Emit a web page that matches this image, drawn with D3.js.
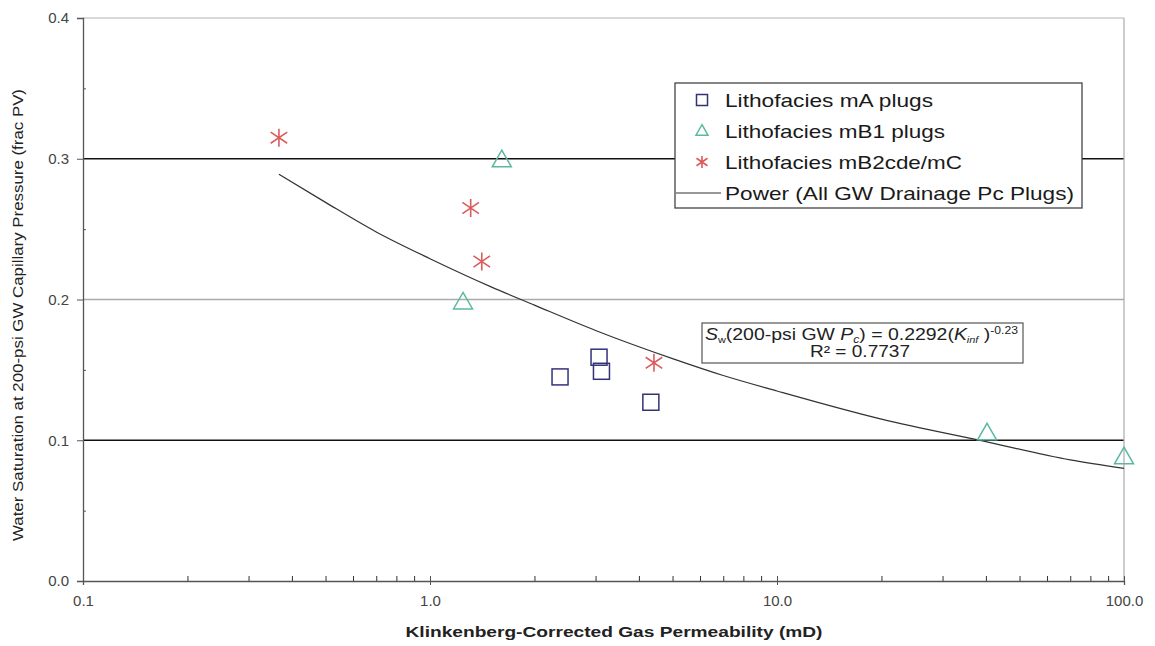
<!DOCTYPE html>
<html><head><meta charset="utf-8">
<script src="https://cdn.jsdelivr.net/npm/d3@7"></script>
<style>body{margin:0;background:#fff}svg{display:block}text{font-family:"Liberation Sans",Arial,sans-serif}</style>
</head><body><svg id="c" width="1155" height="646"></svg>
<script>
// Data
const mA_K  = [2.37, 3.07, 3.12, 4.33];
const mA_Sw = [0.145, 0.159, 0.149, 0.127];
const mB1_K  = [1.61, 1.245, 40.3, 100];
const mB1_Sw = [0.299, 0.198, 0.105, 0.088];
const mB2_K  = [0.367, 1.31, 1.41, 4.42];
const mB2_Sw = [0.315, 0.265, 0.227, 0.155];
// trend line points
const fitK  = [0.367, 0.5, 0.7, 1, 1.5, 2, 3, 5, 7, 10, 20, 40, 70, 100];
const fitSw = [0.289, 0.269, 0.248, 0.229, 0.209, 0.196, 0.178, 0.158, 0.146, 0.135, 0.115, 0.099, 0.086, 0.080];
const yTicks = [0, 0.1, 0.2, 0.3, 0.4];
const xTicks = [0.1, 1, 10, 100];
const legendLabels = ["Lithofacies mA plugs","Lithofacies mB1 plugs","Lithofacies mB2cde/mC","Power (All GW Drainage Pc Plugs)"];

const svg = d3.select("#c");
const L = 83, R = 1124, T = 18, B = 581;
const x = d3.scaleLog().domain([0.1, 100]).range([L, R]);
const y = d3.scaleLinear().domain([0, 0.4]).range([B, T]);

// gridlines
const gridCol = {0.1:"#111", 0.2:"#aaa", 0.3:"#111", 0.4:"#ccc"};
svg.append("g").selectAll("line").data(yTicks.filter(d=>d>0)).join("line")
  .attr("x1", L).attr("x2", R).attr("y1", d=>y(d)).attr("y2", d=>y(d))
  .attr("stroke", d=>gridCol[d]).attr("stroke-width", d=>d===0.4?1.5:1.3);
// right border
svg.append("line").attr("x1",R).attr("x2",R).attr("y1",T).attr("y2",B).attr("stroke","#aaa").attr("stroke-width",1.2);

// Y axis
const yAx = svg.append("g").attr("transform",`translate(${L},0)`)
  .call(d3.axisLeft(y).tickValues(yTicks).tickFormat(d3.format(".1f")).tickSize(6).tickPadding(8));
yAx.select(".domain").attr("stroke","#555").attr("stroke-width",1.3);
yAx.selectAll(".tick line").attr("stroke","#555");
yAx.selectAll("text").attr("font-size",15).attr("fill","#444");
svg.append("g").attr("transform",`translate(${L},0)`)
  .call(d3.axisRight(y).tickValues([0.05,0.15,0.25,0.35]).tickSize(3).tickFormat(""))
  .call(g=>g.select(".domain").remove()).selectAll("line").attr("stroke","#555");

// X axis
const xAx = svg.append("g").attr("transform",`translate(0,${B})`)
  .call(d3.axisBottom(x).tickValues(xTicks).tickFormat(d3.format(".1f")).tickSize(4).tickPadding(10));
xAx.select(".domain").attr("stroke","#555").attr("stroke-width",1.3);
xAx.selectAll(".tick line").attr("stroke","#555").attr("y1",-5);
xAx.selectAll("text").attr("font-size",15).attr("fill","#444");
const minor = [];
[0.1,1,10].forEach(d=>{for(let k=2;k<=9;k++) minor.push(d*k);});
svg.append("g").attr("transform",`translate(0,${B})`)
  .call(d3.axisTop(x).tickValues(minor).tickSize(5).tickFormat(""))
  .call(g=>g.select(".domain").remove()).selectAll("line").attr("stroke","#333");

// axis titles
svg.append("text").attr("x",614).attr("y",637).attr("text-anchor","middle")
  .attr("font-size",14).attr("font-weight","bold").attr("fill","#222")
  .attr("textLength",417).attr("lengthAdjust","spacingAndGlyphs")
  .text("Klinkenberg-Corrected  Gas Permeability  (mD)");
svg.append("text").attr("transform","translate(23,315) rotate(-90)").attr("text-anchor","middle")
  .attr("font-size",14).attr("fill","#222")
  .attr("textLength",452).attr("lengthAdjust","spacingAndGlyphs")
  .text("Water Saturation at 200-psi GW Capillary Pressure  (frac PV)");

// trend line
svg.append("path").datum(fitK.map((k,i)=>[k,fitSw[i]]))
  .attr("d", d3.line().x(d=>x(d[0])).y(d=>y(d[1])).curve(d3.curveMonotoneX))
  .attr("fill","none").attr("stroke","#333").attr("stroke-width",1.2);

// markers
const sqCol = "#33337a", triCol = "#5cb8a2", astCol = "#dd5b5b";
function square(g, cx, cy, s){ g.append("rect").attr("x",cx-s/2).attr("y",cy-s/2).attr("width",s).attr("height",s)
  .attr("fill","none").attr("stroke",sqCol).attr("stroke-width",1.5); }
function tri(g, cx, cy, s){ const h=s*0.87; g.append("path")
  .attr("d",`M${cx},${cy-h*0.6}L${cx+s/2},${cy+h*0.4}L${cx-s/2},${cy+h*0.4}Z`)
  .attr("fill","none").attr("stroke",triCol).attr("stroke-width",1.5); }
function ast(g, cx, cy, s){ const r=s/2; const p=[];
  p.push(`M${cx},${cy-r}L${cx},${cy+r}`);
  const a=r*0.92, b=r*0.62;
  p.push(`M${cx-a},${cy-b}L${cx+a},${cy+b}`);
  p.push(`M${cx-a},${cy+b}L${cx+a},${cy-b}`);
  g.append("path").attr("d",p.join("")).attr("fill","none").attr("stroke",astCol).attr("stroke-width",1.6); }

const mk = svg.append("g");
mA_K.forEach((k,i)=>square(mk, x(k), y(mA_Sw[i]), 16));
mB1_K.forEach((k,i)=>tri(mk, x(k), y(mB1_Sw[i]), 19));
mB2_K.forEach((k,i)=>ast(mk, x(k), y(mB2_Sw[i]), 18));

// legend
const lg = svg.append("g");
lg.append("rect").attr("x",675).attr("y",83).attr("width",407).attr("height",125)
  .attr("fill","#fff").attr("stroke","#444").attr("stroke-width",1.3);
const rowY = [100,131,162,193];
const legendW = [208, 220, 237, 349];
legendLabels.forEach((t,i)=>{
  lg.append("text").attr("x",725).attr("y",rowY[i]+6.5).attr("font-size",18.5).attr("fill","#1a1a1a")
    .attr("textLength",legendW[i]).attr("lengthAdjust","spacingAndGlyphs").text(t);
});
square(lg, 702, rowY[0], 11);
tri(lg, 702, rowY[1], 12);
ast(lg, 702, rowY[2], 12);
lg.append("line").attr("x1",676).attr("x2",721).attr("y1",rowY[3]).attr("y2",rowY[3]).attr("stroke","#333").attr("stroke-width",1.2);

// equation box
const eq = svg.append("g");
eq.append("rect").attr("x",702).attr("y",323).attr("width",321).attr("height",40)
  .attr("fill","#fff").attr("stroke","#555").attr("stroke-width",1.2);
const t1 = eq.append("text").attr("x",705).attr("y",340).attr("font-size",16).attr("fill","#222")
  .attr("textLength",313).attr("lengthAdjust","spacingAndGlyphs");
t1.append("tspan").attr("font-style","italic").text("S");
t1.append("tspan").attr("font-size",9).attr("dy",3).text("w");
t1.append("tspan").attr("dy",-3).text("(200-psi GW ");
t1.append("tspan").attr("font-style","italic").text("P");
t1.append("tspan").attr("font-size",10).attr("dy",3).attr("font-style","italic").text("c");
t1.append("tspan").attr("dy",-3).text(") = 0.2292(");
t1.append("tspan").attr("font-style","italic").text("K");
t1.append("tspan").attr("font-size",9).attr("dy",3).attr("font-style","italic").text("inf");
t1.append("tspan").attr("dy",-3).text(" )");
t1.append("tspan").attr("font-size",10).attr("dy",-6).text("-0.23");
eq.append("text").attr("x",860).attr("y",357).attr("text-anchor","middle").attr("font-size",16).attr("fill","#222")
  .attr("textLength",100).attr("lengthAdjust","spacingAndGlyphs").text("R² = 0.7737");
</script></body></html>
